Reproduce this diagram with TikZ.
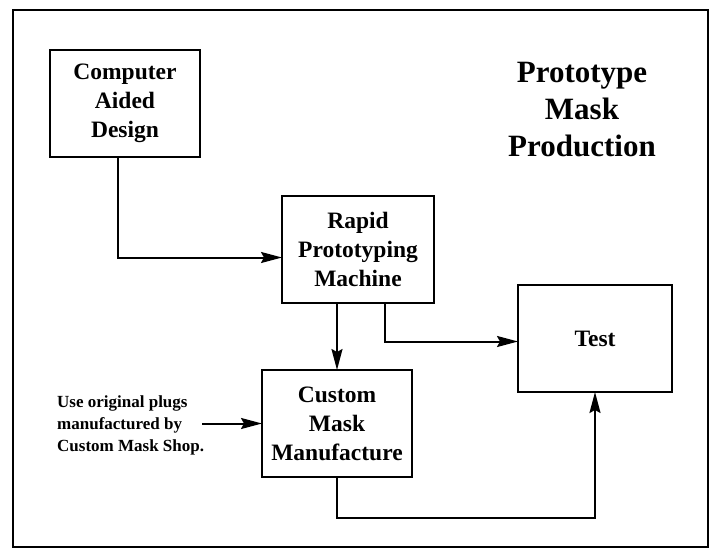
\documentclass[tikz,border=0pt]{standalone}
\usepackage{fontspec}
\setmainfont{Liberation Serif}
\usetikzlibrary{arrows.meta, positioning}

\begin{document}
\begin{tikzpicture}[
    x=1pt, y=-1pt,
    box/.style={rectangle, draw, line width=2pt, minimum width=152pt, minimum height=107pt, align=center, inner sep=0pt, outer sep=0pt,
        font=\bfseries\fontsize{23.5}{29}\selectfont},
    note/.style={align=left, inner sep=0pt, font=\bfseries\fontsize{17}{22}\selectfont},
    title/.style={align=center, inner sep=0pt, font=\bfseries\fontsize{31}{37}\selectfont},
    arrow/.style={-{Stealth[length=21pt, width=11pt, inset=3pt]}, line width=2pt}
]
\useasboundingbox (0,0) rectangle (720,559);
\draw[line width=2.5pt] (13,10) rectangle (708,547);

\node[box, minimum width=150pt, anchor=north west] (cad) at (50,50) {Computer\\Aided\\Design};
\node[box, below right=39pt and 82pt of cad] (rapid) {Rapid\\Prototyping\\Machine};
\node[box, minimum width=150pt, below=67pt of rapid.south, xshift=-21pt] (custom) {Custom\\Mask\\Manufacture};
\node[box, minimum width=154pt, right=84pt of rapid.east, yshift=-89pt] (test) {Test};

\node[title] (heading) at (582,110) {Prototype\\Mask\\Production};
\node[note, anchor=west] (plugs) at (57,425) {Use original plugs\\manufactured by\\Custom Mask Shop.};

\draw[arrow] ([xshift=-7pt]cad.south) |- ([yshift=-8pt]rapid.west);
\draw[arrow] (rapid.south -| custom.north) -- (custom.north);
\draw[arrow] ([xshift=27pt]rapid.south) |- ([yshift=-3pt]test.west);
\draw[arrow] ([xshift=-2pt]plugs.east |- custom.west) -- (custom.west);
\draw[arrow] (custom.south) -- ++(0,41) -| (test.south);
\end{tikzpicture}
\end{document}
